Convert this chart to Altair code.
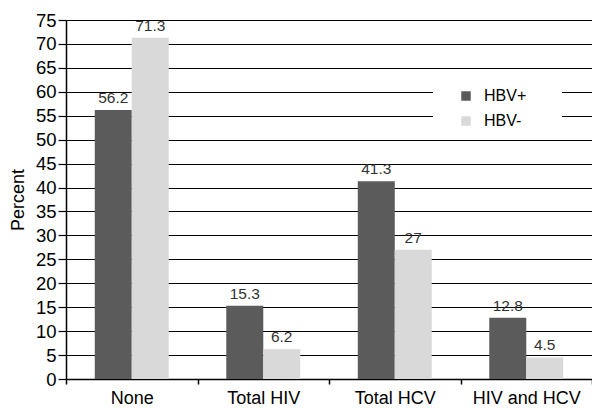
import altair as alt
import pandas as pd

categories = ["None", "Total HIV", "Total HCV", "HIV and HCV"]
series = ["HBV+", "HBV-"]
hbv_pos = [56.2, 15.3, 41.3, 12.8]
hbv_neg = [71.3, 6.2, 27, 4.5]
pos_labels = ["56.2", "15.3", "41.3", "12.8"]
neg_labels = ["71.3", "6.2", "27", "4.5"]
y_ticks = [0, 5, 10, 15, 20, 25, 30, 35, 40, 45, 50, 55, 60, 65, 70, 75]

rows = []
for c, v, l in zip(categories, hbv_pos, pos_labels):
    rows.append({"cat": c, "grp": "HBV+", "val": v, "lab": l})
for c, v, l in zip(categories, hbv_neg, neg_labels):
    rows.append({"cat": c, "grp": "HBV-", "val": v, "lab": l})
df = pd.DataFrame(rows)

FONT = "Liberation Sans"

x = alt.X("cat:N", sort=categories, title=None,
          scale=alt.Scale(paddingInner=0, paddingOuter=0),
          axis=alt.Axis(labelAngle=0, tickBand="extent", domainColor="black",
                        domainWidth=1.5, tickColor="black", tickWidth=1.5,
                        tickSize=5, labelFontSize=18, labelColor="black",
                        labelFont=FONT, labelPadding=5, grid=False))
xo = alt.XOffset("grp:N", sort=series,
                 scale=alt.Scale(paddingInner=0, paddingOuter=0.78))
y = alt.Y("val:Q", title="Percent",
          scale=alt.Scale(domain=[0, 75], nice=False),
          axis=alt.Axis(values=y_ticks, grid=True, gridColor="black",
                        gridWidth=1.2, gridOpacity=1, domainColor="black",
                        domainWidth=1.5, tickColor="black", tickSize=8,
                        tickWidth=1.2, labelFontSize=18.5, labelColor="black",
                        labelFont=FONT, labelPadding=2, labelOverlap=False,
                        labelBound=False, titleFont=FONT,
                        titleFontSize=18, titleFontWeight="normal",
                        titleColor="black", titlePadding=8))
color = alt.Color("grp:N", sort=series,
                  scale=alt.Scale(domain=series, range=["#5b5b5b", "#d9d9d9"]),
                  legend=alt.Legend(title=None, orient="none", legendX=392,
                                    legendY=68, labelFont=FONT, labelFontSize=16,
                                    labelColor="black", symbolType="square",
                                    symbolSize=90, symbolStrokeWidth=0,
                                    rowPadding=9, labelOffset=10))

base = alt.Chart(df)
bars = base.mark_bar(size=37).encode(x=x, xOffset=xo, y=y, color=color)
text = base.mark_text(dy=-12, fontSize=15.5, font=FONT, color="#333333").encode(
    x=x, xOffset=xo, y=y, text="lab:N")

cover = alt.Chart(alt.Data(values=[{"a": 1}])).mark_rect(color="white").encode(
    x=alt.value(367), x2=alt.value(496), y=alt.value(57), y2=alt.value(108))

chart = alt.layer(cover, bars, text).properties(
    width=526, height=359,
    padding={"left": 66, "top": 20, "right": 0, "bottom": 29},
    autosize=alt.AutoSizeParams(type="none"),
).configure_view(stroke=None).configure(background="white")

chart.save("out.html", embed_options={"renderer": "svg", "actions": False})
